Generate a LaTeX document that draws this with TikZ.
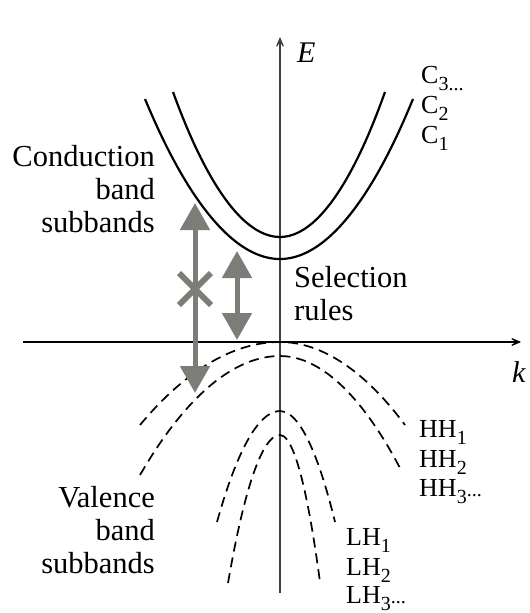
\documentclass[tikz,border=0pt]{standalone}
\usepackage{fontspec}
\setmainfont{Liberation Serif}
\usetikzlibrary{arrows.meta}
\definecolor{arrgray}{RGB}{125,125,120}
\newcommand{\sbs}[1]{\raisebox{-7pt}{\fontsize{20}{20}\selectfont #1}}
\newcommand{\smdots}{{\fontsize{20}{20}\selectfont...}}
\begin{document}
\begin{tikzpicture}[x=1pt,y=-1pt,
  big/.style={font=\fontsize{30.5}{33}\selectfont, inner sep=0pt},
  lab/.style={font=\fontsize{26}{30}\selectfont, inner sep=0pt, anchor=base west},
  axisline/.style={line width=1.1pt, -{Stealth[length=15pt,width=13pt,inset=10pt]}},
  cband/.style={line width=2.2pt},
  vband/.style={line width=1.7pt, dash pattern=on 10pt off 6pt},
  trans/.style={arrgray, line width=5pt, {Triangle[length=27pt,width=29pt]}-{Triangle[length=27pt,width=29pt]}},
  cross/.style={arrgray, line width=6pt},
]
\useasboundingbox (0,0) rectangle (530,613);

% axes
\coordinate (ybot) at (280,593);
\coordinate (ytop) at (280,37);
\coordinate (xl) at (23,342);
\coordinate (xr) at (521,342);
\draw[axisline, black!75] (ybot) -- (ytop);
\draw[axisline] (xl) -- (xr);
\node[big, anchor=base west, font=\fontsize{30}{33}\selectfont\itshape] (E) at (297,62) {E};
\node[big, anchor=base west, font=\fontsize{30}{33}\selectfont\itshape] (k) at (512,382) {k};

% conduction subbands
\draw[cband] (145,99) parabola bend (280,259) (413,99);
\draw[cband] (173,92) parabola bend (280,237) (385,92);

% valence subbands (heavy holes)
\draw[vband] (140,425) parabola bend (280,342) (405,425);
\draw[vband] (140,475) parabola bend (280,356) (400,468);
% light holes
\draw[vband] (217,522) parabola bend (280,411) (335,522);
\draw[vband] (228,583) parabola bend (280,435) (320,582);

% transitions
\coordinate (a1t) at (195,203);
\coordinate (a1b) at (195,393);
\coordinate (a2t) at (237,251);
\coordinate (a2b) at (237,340);
\draw[trans] (a1b) -- (a1t);
\draw[trans] (a2b) -- (a2t);
\draw[cross] (179,273) -- (211,305);
\draw[cross] (179,305) -- (211,273);

% text
\node[big, anchor=base east, align=right] (cond) at (155,232) {Conduction\\band\\subbands};
\node[big, anchor=base east, align=right] (val) at (155,573) {Valence\\band\\subbands};
\node[big, anchor=base west, align=left] (sel) at (294,320) {Selection\\rules};

\node[lab] (c3) at (421,83) {C\sbs{3\smdots}};
\node[lab] (c2) at (421,113) {C\sbs{2}};
\node[lab] (c1) at (421,143) {C\sbs{1}};

\node[lab] (hh1) at (419,437) {HH\sbs{1}};
\node[lab] (hh2) at (419,467) {HH\sbs{2}};
\node[lab] (hh3) at (419,496) {HH\sbs{3}\smdots};

\node[lab] (lh1) at (346,545) {LH\sbs{1}};
\node[lab] (lh2) at (346,575) {LH\sbs{2}};
\node[lab] (lh3) at (346,603) {LH\sbs{3}\smdots};
\end{tikzpicture}
\end{document}
